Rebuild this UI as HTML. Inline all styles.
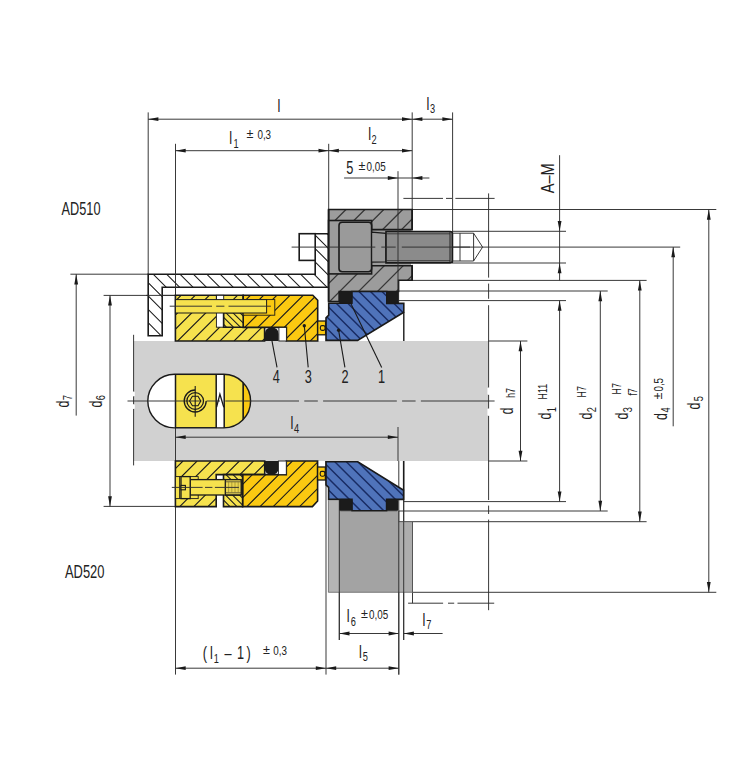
<!DOCTYPE html>
<html lang="de"><head><meta charset="utf-8"><title>AD510 / AD520</title><style>html,body{margin:0;padding:0;background:#fff;}svg{display:block;}</style></head><body><svg width="731" height="768" viewBox="0 0 731 768"><defs><clipPath id="c1"><polygon points="148.2,274.2 315.2,274.2 315.2,233.7 328.6,233.7 328.6,287.3 162.2,287.3 162.2,335.8 148.2,335.8"/></clipPath><clipPath id="c2"><polygon points="328.6,209.5 412.2,209.5 412.2,280.2 398.6,280.2 398.6,291.5 339.2,291.5 339.2,301.6 328.6,301.6"/></clipPath><clipPath id="c3"><polygon points="328.7,303.3 351.9,303.3 351.9,291.5 386.8,291.5 386.8,303.4 403.8,303.4 403.8,312.2 357.6,340.4 326.0,340.4 326.0,317.8 328.7,315.2"/></clipPath><clipPath id="c4"><polygon points="175.4,295.3 243.2,295.3 243.2,312.8 223.7,312.8 223.7,327.2 264.6,327.2 264.6,341.0 175.4,341.0"/></clipPath><clipPath id="c5"><polygon points="223.7,312.8 243.2,312.8 243.2,327.2 223.7,327.2"/></clipPath><clipPath id="c6"><polygon points="243.2,295.3 312.8,295.3 317.7,300.3 317.7,341.0 286.4,341.0 286.4,327.4 243.2,327.4"/></clipPath><clipPath id="c7"><polygon points="223.7,312.8 243.2,312.8 243.2,327.2 223.7,327.2"/></clipPath><clipPath id="c8"><polygon points="326.0,461.8 357.8,461.8 403.6,490.2 403.6,499.4 386.6,499.4 386.6,510.8 352.0,510.8 352.0,499.4 328.6,499.4 328.6,487.4 326.0,484.8"/></clipPath><clipPath id="c9"><polygon points="175.4,461.0 264.7,461.0 264.7,474.6 216.2,474.6 216.2,506.6 175.4,506.6"/></clipPath><clipPath id="c10"><polygon points="242.6,474.6 286.3,474.6 286.3,461.0 317.6,461.0 317.6,501.0 312.4,506.6 242.6,506.6"/></clipPath><clipPath id="c11"><polygon points="223.5,474.6 242.6,474.6 242.6,506.6 223.5,506.6"/></clipPath><clipPath id="key"><rect x="147.8" y="374.3" width="102.79999999999998" height="53.599999999999966" rx="26.799999999999983"/></clipPath></defs><rect x="133.3" y="341.0" width="355.2" height="120.0" rx="0" fill="#d1d1d1" stroke="none" />
<line x1="148.2" y1="112.4" x2="148.2" y2="274.0" stroke="#2e2e2e" stroke-width="0.95"/>
<line x1="175.5" y1="143.8" x2="175.5" y2="295.0" stroke="#2e2e2e" stroke-width="0.95"/>
<line x1="328.7" y1="143.8" x2="328.7" y2="209.5" stroke="#2e2e2e" stroke-width="0.95"/>
<line x1="412.2" y1="112.4" x2="412.2" y2="209.5" stroke="#2e2e2e" stroke-width="0.95"/>
<line x1="452.6" y1="112.4" x2="452.6" y2="263.0" stroke="#2e2e2e" stroke-width="0.95"/>
<line x1="398.0" y1="171.2" x2="398.0" y2="303.0" stroke="#2e2e2e" stroke-width="0.95"/>
<line x1="148.2" y1="119.2" x2="452.6" y2="119.2" stroke="#2e2e2e" stroke-width="0.95"/>
<line x1="175.5" y1="150.7" x2="412.2" y2="150.7" stroke="#2e2e2e" stroke-width="0.95"/>
<line x1="344.1" y1="178.0" x2="429.4" y2="178.0" stroke="#2e2e2e" stroke-width="0.95"/>
<polygon points="148.2,119.2 158.4,117.3 158.4,121.1" fill="#1a1a1a"/>
<polygon points="412.2,119.2 402.0,121.1 402.0,117.3" fill="#1a1a1a"/>
<polygon points="412.2,119.2 422.4,117.3 422.4,121.1" fill="#1a1a1a"/>
<polygon points="452.6,119.2 442.4,121.1 442.4,117.3" fill="#1a1a1a"/>
<polygon points="175.5,150.7 185.7,148.8 185.7,152.6" fill="#1a1a1a"/>
<polygon points="328.7,150.7 318.5,152.6 318.5,148.8" fill="#1a1a1a"/>
<polygon points="328.7,150.7 338.9,148.8 338.9,152.6" fill="#1a1a1a"/>
<polygon points="412.2,150.7 402.0,152.6 402.0,148.8" fill="#1a1a1a"/>
<polygon points="398.0,178.0 387.8,179.9 387.8,176.1" fill="#1a1a1a"/>
<polygon points="412.2,178.0 422.4,176.1 422.4,179.9" fill="#1a1a1a"/>
<line x1="403.4" y1="198.4" x2="443.0" y2="198.4" stroke="#2e2e2e" stroke-width="0.95"/>
<line x1="446.0" y1="198.4" x2="452.0" y2="198.4" stroke="#2e2e2e" stroke-width="0.95"/>
<line x1="455.4" y1="198.4" x2="494.6" y2="198.4" stroke="#2e2e2e" stroke-width="0.95"/>
<line x1="488.6" y1="193.4" x2="488.6" y2="277.6" stroke="#2e2e2e" stroke-width="0.95"/>
<line x1="488.6" y1="283.6" x2="488.6" y2="298.8" stroke="#2e2e2e" stroke-width="0.95"/>
<line x1="488.6" y1="305.2" x2="488.6" y2="341.0" stroke="#2e2e2e" stroke-width="0.95"/>
<line x1="488.6" y1="461.0" x2="488.6" y2="500.0" stroke="#2e2e2e" stroke-width="0.95"/>
<line x1="488.6" y1="505.6" x2="488.6" y2="514.0" stroke="#2e2e2e" stroke-width="0.95"/>
<line x1="488.6" y1="519.6" x2="488.6" y2="610.2" stroke="#2e2e2e" stroke-width="0.95"/>
<line x1="488.6" y1="341.0" x2="488.6" y2="387.5" stroke="#2e2e2e" stroke-width="0.95"/>
<line x1="488.6" y1="394.8" x2="488.6" y2="408.5" stroke="#2e2e2e" stroke-width="0.95"/>
<line x1="488.6" y1="415.8" x2="488.6" y2="461.0" stroke="#2e2e2e" stroke-width="0.95"/>
<rect x="487.4" y="387.9" width="2.0" height="6.5" rx="0" fill="#fff" stroke="none" />
<rect x="487.4" y="408.9" width="2.0" height="6.5" rx="0" fill="#fff" stroke="none" />
<line x1="408.1" y1="603.2" x2="443.1" y2="603.2" stroke="#2e2e2e" stroke-width="0.95"/>
<line x1="448.0" y1="603.2" x2="454.2" y2="603.2" stroke="#2e2e2e" stroke-width="0.95"/>
<line x1="457.5" y1="603.2" x2="494.2" y2="603.2" stroke="#2e2e2e" stroke-width="0.95"/>
<line x1="412.5" y1="592.3" x2="412.5" y2="603.2" stroke="#2e2e2e" stroke-width="0.95"/>
<line x1="412.2" y1="209.5" x2="716.3" y2="209.5" stroke="#2e2e2e" stroke-width="0.95"/>
<line x1="452.0" y1="231.3" x2="566.0" y2="231.3" stroke="#2e2e2e" stroke-width="0.95"/>
<line x1="401.8" y1="247.1" x2="680.2" y2="247.1" stroke="#2e2e2e" stroke-width="0.95"/>
<line x1="452.0" y1="263.0" x2="566.0" y2="263.0" stroke="#2e2e2e" stroke-width="0.95"/>
<line x1="398.6" y1="280.4" x2="646.6" y2="280.4" stroke="#2e2e2e" stroke-width="0.95"/>
<line x1="398.6" y1="291.0" x2="607.7" y2="291.0" stroke="#2e2e2e" stroke-width="0.95"/>
<line x1="398.6" y1="300.6" x2="566.0" y2="300.6" stroke="#2e2e2e" stroke-width="0.95"/>
<line x1="488.5" y1="341.0" x2="527.4" y2="341.0" stroke="#2e2e2e" stroke-width="0.95"/>
<line x1="488.5" y1="461.0" x2="527.4" y2="461.0" stroke="#2e2e2e" stroke-width="0.95"/>
<line x1="403.7" y1="501.6" x2="566.0" y2="501.6" stroke="#2e2e2e" stroke-width="0.95"/>
<line x1="398.6" y1="511.0" x2="607.7" y2="511.0" stroke="#2e2e2e" stroke-width="0.95"/>
<line x1="398.6" y1="521.7" x2="646.6" y2="521.7" stroke="#2e2e2e" stroke-width="0.95"/>
<line x1="412.5" y1="592.3" x2="716.3" y2="592.3" stroke="#2e2e2e" stroke-width="0.95"/>
<line x1="520.5" y1="341.0" x2="520.5" y2="461.0" stroke="#2e2e2e" stroke-width="0.95"/>
<polygon points="520.5,341.0 522.4,351.2 518.6,351.2" fill="#1a1a1a"/>
<polygon points="520.5,461.0 518.6,450.8 522.4,450.8" fill="#1a1a1a"/>
<line x1="559.6" y1="155.2" x2="559.6" y2="280.4" stroke="#2e2e2e" stroke-width="0.95"/>
<polygon points="559.6,231.3 557.7,221.1 561.5,221.1" fill="#1a1a1a"/>
<polygon points="559.6,263.0 561.5,273.2 557.7,273.2" fill="#1a1a1a"/>
<line x1="559.6" y1="300.6" x2="559.6" y2="501.6" stroke="#2e2e2e" stroke-width="0.95"/>
<polygon points="559.6,300.6 561.5,310.8 557.7,310.8" fill="#1a1a1a"/>
<polygon points="559.6,501.6 557.7,491.4 561.5,491.4" fill="#1a1a1a"/>
<line x1="600.3" y1="291.0" x2="600.3" y2="511.0" stroke="#2e2e2e" stroke-width="0.95"/>
<polygon points="600.3,291.0 602.2,301.2 598.4,301.2" fill="#1a1a1a"/>
<polygon points="600.3,511.0 598.4,500.8 602.2,500.8" fill="#1a1a1a"/>
<line x1="639.8" y1="280.4" x2="639.8" y2="521.7" stroke="#2e2e2e" stroke-width="0.95"/>
<polygon points="639.8,280.4 641.7,290.6 637.9,290.6" fill="#1a1a1a"/>
<polygon points="639.8,521.7 637.9,511.5 641.7,511.5" fill="#1a1a1a"/>
<line x1="673.2" y1="247.1" x2="673.2" y2="426.3" stroke="#2e2e2e" stroke-width="0.95"/>
<polygon points="673.2,247.1 675.1,257.3 671.3,257.3" fill="#1a1a1a"/>
<line x1="708.8" y1="209.5" x2="708.8" y2="592.3" stroke="#2e2e2e" stroke-width="0.95"/>
<polygon points="708.8,209.5 710.7,219.7 706.9,219.7" fill="#1a1a1a"/>
<polygon points="708.8,592.3 706.9,582.1 710.7,582.1" fill="#1a1a1a"/>
<line x1="70.4" y1="274.2" x2="148.2" y2="274.2" stroke="#2e2e2e" stroke-width="0.95"/>
<line x1="76.2" y1="274.2" x2="76.2" y2="415.6" stroke="#2e2e2e" stroke-width="0.95"/>
<polygon points="76.2,274.2 78.1,284.4 74.3,284.4" fill="#1a1a1a"/>
<line x1="103.6" y1="295.4" x2="175.5" y2="295.4" stroke="#2e2e2e" stroke-width="0.95"/>
<line x1="103.6" y1="506.4" x2="175.5" y2="506.4" stroke="#2e2e2e" stroke-width="0.95"/>
<line x1="110.0" y1="295.4" x2="110.0" y2="506.4" stroke="#2e2e2e" stroke-width="0.95"/>
<polygon points="110.0,295.4 111.9,305.6 108.1,305.6" fill="#1a1a1a"/>
<polygon points="110.0,506.4 108.1,496.2 111.9,496.2" fill="#1a1a1a"/>
<line x1="175.5" y1="506.4" x2="175.5" y2="674.6" stroke="#2e2e2e" stroke-width="0.95"/>
<line x1="326.0" y1="461.0" x2="326.0" y2="674.6" stroke="#2e2e2e" stroke-width="0.95"/>
<line x1="339.3" y1="500.0" x2="339.3" y2="640.0" stroke="#2e2e2e" stroke-width="0.95"/>
<line x1="398.8" y1="461.0" x2="398.8" y2="674.6" stroke="#2e2e2e" stroke-width="0.95"/>
<line x1="403.7" y1="461.0" x2="403.7" y2="640.0" stroke="#2e2e2e" stroke-width="0.95"/>
<line x1="339.3" y1="633.5" x2="398.8" y2="633.5" stroke="#2e2e2e" stroke-width="0.95"/>
<line x1="403.7" y1="633.5" x2="442.6" y2="633.5" stroke="#2e2e2e" stroke-width="0.95"/>
<polygon points="339.3,633.5 349.5,631.6 349.5,635.4" fill="#1a1a1a"/>
<polygon points="398.8,633.5 388.6,635.4 388.6,631.6" fill="#1a1a1a"/>
<polygon points="403.7,633.5 413.9,631.6 413.9,635.4" fill="#1a1a1a"/>
<line x1="175.5" y1="668.2" x2="398.8" y2="668.2" stroke="#2e2e2e" stroke-width="0.95"/>
<polygon points="175.5,668.2 185.7,666.3 185.7,670.1" fill="#1a1a1a"/>
<polygon points="326.0,668.2 315.8,670.1 315.8,666.3" fill="#1a1a1a"/>
<polygon points="326.0,668.2 336.2,666.3 336.2,670.1" fill="#1a1a1a"/>
<polygon points="398.8,668.2 388.6,670.1 388.6,666.3" fill="#1a1a1a"/>
<line x1="133.6" y1="334.8" x2="133.6" y2="391.5" stroke="#2e2e2e" stroke-width="0.95"/>
<line x1="133.6" y1="396.4" x2="133.6" y2="404.2" stroke="#2e2e2e" stroke-width="0.95"/>
<line x1="133.6" y1="409.0" x2="133.6" y2="465.4" stroke="#2e2e2e" stroke-width="0.95"/>
<rect x="132.6" y="391.9" width="2.2" height="4.1" rx="0" fill="#fff" stroke="none" />
<rect x="132.6" y="404.6" width="2.2" height="4.0" rx="0" fill="#fff" stroke="none" />
<line x1="175.5" y1="427.7" x2="175.5" y2="461.0" stroke="#2e2e2e" stroke-width="0.95"/>
<line x1="175.5" y1="437.2" x2="398.0" y2="437.2" stroke="#2e2e2e" stroke-width="0.95"/>
<line x1="398.0" y1="427.0" x2="398.0" y2="461.0" stroke="#2e2e2e" stroke-width="0.95"/>
<polygon points="175.5,437.2 185.7,435.3 185.7,439.1" fill="#1a1a1a"/>
<polygon points="398.0,437.2 387.8,439.1 387.8,435.3" fill="#1a1a1a"/>
<polygon points="148.2,274.2 315.2,274.2 315.2,233.7 328.6,233.7 328.6,287.3 162.2,287.3 162.2,335.8 148.2,335.8" fill="#fff" stroke="none" stroke-width="1.6" stroke-linejoin="miter" />
<path d="M59.1 233.7L161.2 335.8M72.5 233.7L174.6 335.8M85.9 233.7L188.0 335.8M99.3 233.7L201.4 335.8M112.7 233.7L214.8 335.8M126.1 233.7L228.2 335.8M139.5 233.7L241.6 335.8M152.9 233.7L255.0 335.8M166.3 233.7L268.4 335.8M179.7 233.7L281.8 335.8M193.1 233.7L295.2 335.8M206.5 233.7L308.6 335.8M219.9 233.7L322.0 335.8M233.3 233.7L335.4 335.8M246.7 233.7L348.8 335.8M260.1 233.7L362.2 335.8M273.5 233.7L375.6 335.8M286.9 233.7L389.0 335.8M300.3 233.7L402.4 335.8M313.7 233.7L415.8 335.8M327.1 233.7L429.2 335.8" stroke="#1c1c1c" stroke-width="1.05" fill="none" clip-path="url(#c1)"/>
<polygon points="148.2,274.2 315.2,274.2 315.2,233.7 328.6,233.7 328.6,287.3 162.2,287.3 162.2,335.8 148.2,335.8" fill="none" stroke="#1a1a1a" stroke-width="1.6" stroke-linejoin="miter" />
<line x1="175.5" y1="270.0" x2="175.5" y2="295.3" stroke="#2e2e2e" stroke-width="0.95"/>
<line x1="146.0" y1="295.4" x2="175.5" y2="295.4" stroke="#2e2e2e" stroke-width="0.95"/>
<rect x="299.2" y="233.7" width="16.0" height="26.7" rx="0" fill="#fff" stroke="#1a1a1a" stroke-width="1.6" />
<line x1="291.6" y1="247.1" x2="330.0" y2="247.1" stroke="#2e2e2e" stroke-width="0.95"/>
<polygon points="328.6,209.5 412.2,209.5 412.2,280.2 398.6,280.2 398.6,291.5 339.2,291.5 339.2,301.6 328.6,301.6" fill="#9c9c9c" stroke="none" stroke-width="1.6" stroke-linejoin="miter" />
<path d="M346.0 209.5L253.9 301.6M364.9 209.5L272.8 301.6M383.8 209.5L291.7 301.6M402.7 209.5L310.6 301.6M421.6 209.5L329.5 301.6M440.5 209.5L348.4 301.6M459.4 209.5L367.3 301.6M478.3 209.5L386.2 301.6M497.2 209.5L405.1 301.6" stroke="#383838" stroke-width="1.3" fill="none" clip-path="url(#c2)"/>
<polygon points="328.6,209.5 412.2,209.5 412.2,280.2 398.6,280.2 398.6,291.5 339.2,291.5 339.2,301.6 328.6,301.6" fill="none" stroke="#1a1a1a" stroke-width="1.6" stroke-linejoin="miter" />
<rect x="328.6" y="220.5" width="43.0" height="53.4" rx="0" fill="#9c9c9c" stroke="#1a1a1a" stroke-width="1.6" />
<rect x="371.6" y="229.6" width="40.6" height="36.1" rx="0" fill="#9c9c9c" stroke="none" stroke-width="1.6" />
<rect x="411.0" y="230.4" width="2.4" height="34.5" rx="0" fill="#fff" stroke="none" stroke-width="1.6" />
<line x1="371.6" y1="229.6" x2="412.2" y2="229.6" stroke="#1a1a1a" stroke-width="1.6"/>
<line x1="371.6" y1="265.7" x2="412.2" y2="265.7" stroke="#1a1a1a" stroke-width="1.6"/>
<line x1="328.6" y1="209.5" x2="328.6" y2="301.6" stroke="#1a1a1a" stroke-width="1.6"/>
<rect x="339.0" y="222.3" width="32.6" height="49.5" rx="3.2" fill="#9a9a9a" stroke="#1a1a1a" stroke-width="1.6" />
<path d="M371.6 232.2 L386 233.4 L386 262 L371.6 262.2 Z" fill="#9a9a9a" stroke="#1a1a1a" stroke-width="1.2"/>
<path d="M386 231.5 L450.2 231.5 Q452.4 231.5 452.4 233.7 L452.4 260.7 Q452.4 262.9 450.2 262.9 L386 262.9 Z" fill="#8b8b8b" stroke="#1a1a1a" stroke-width="1.6"/>
<line x1="386.0" y1="233.8" x2="450.0" y2="233.8" stroke="#2a2a2a" stroke-width="0.8"/>
<line x1="386.0" y1="260.7" x2="450.0" y2="260.7" stroke="#2a2a2a" stroke-width="0.8"/>
<line x1="450.0" y1="232.0" x2="450.0" y2="262.4" stroke="#222" stroke-width="1.0"/>
<line x1="398.0" y1="209.5" x2="398.0" y2="291.5" stroke="#2e2e2e" stroke-width="0.95"/>
<line x1="412.2" y1="209.5" x2="412.2" y2="229.6" stroke="#1a1a1a" stroke-width="1.6"/>
<line x1="412.2" y1="265.7" x2="412.2" y2="280.2" stroke="#1a1a1a" stroke-width="1.6"/>
<line x1="328.0" y1="247.1" x2="375.3" y2="247.1" stroke="#2e2e2e" stroke-width="0.95"/>
<line x1="381.3" y1="247.1" x2="395.7" y2="247.1" stroke="#2e2e2e" stroke-width="0.95"/>
<line x1="401.8" y1="247.1" x2="470.0" y2="247.1" stroke="#2e2e2e" stroke-width="0.95"/>
<line x1="452.4" y1="233.2" x2="473.6" y2="233.2" stroke="#2e2e2e" stroke-width="0.95"/>
<line x1="452.4" y1="261.0" x2="473.6" y2="261.0" stroke="#2e2e2e" stroke-width="0.95"/>
<line x1="460.0" y1="233.2" x2="460.0" y2="261.0" stroke="#2e2e2e" stroke-width="0.95"/>
<line x1="473.6" y1="233.2" x2="473.6" y2="261.0" stroke="#2e2e2e" stroke-width="0.95"/>
<line x1="473.6" y1="233.2" x2="482.6" y2="247.1" stroke="#2e2e2e" stroke-width="0.95"/>
<line x1="473.6" y1="261.0" x2="482.6" y2="247.1" stroke="#2e2e2e" stroke-width="0.95"/>
<polygon points="328.7,303.3 351.9,303.3 351.9,291.5 386.8,291.5 386.8,303.4 403.8,303.4 403.8,312.2 357.6,340.4 326.0,340.4 326.0,317.8 328.7,315.2" fill="#4f73ba" stroke="none" stroke-width="1.6" stroke-linejoin="miter" />
<path d="M278.5 291.5L327.4 340.4M290.0 291.5L338.9 340.4M301.5 291.5L350.4 340.4M313.0 291.5L361.9 340.4M324.5 291.5L373.4 340.4M336.0 291.5L384.9 340.4M347.5 291.5L396.4 340.4M359.0 291.5L407.9 340.4M370.5 291.5L419.4 340.4M382.0 291.5L430.9 340.4M393.5 291.5L442.4 340.4" stroke="#182b63" stroke-width="1.45" fill="none" clip-path="url(#c3)"/>
<polygon points="328.7,303.3 351.9,303.3 351.9,291.5 386.8,291.5 386.8,303.4 403.8,303.4 403.8,312.2 357.6,340.4 326.0,340.4 326.0,317.8 328.7,315.2" fill="none" stroke="#1a1a1a" stroke-width="1.6" stroke-linejoin="miter" />
<line x1="403.8" y1="312.2" x2="403.8" y2="341.0" stroke="#1a1a1a" stroke-width="1.4"/>
<rect x="339.2" y="291.5" width="12.7" height="11.8" rx="1.2" fill="#1b1b1b" stroke="#1b1b1b" stroke-width="0.6" />
<rect x="386.8" y="291.5" width="11.9" height="11.9" rx="1.2" fill="#1b1b1b" stroke="#1b1b1b" stroke-width="0.6" />
<polygon points="175.4,295.3 243.2,295.3 243.2,312.8 223.7,312.8 223.7,327.2 264.6,327.2 264.6,341.0 175.4,341.0" fill="#f6e24e" stroke="none" stroke-width="1.6" stroke-linejoin="miter" />
<path d="M181.1 295.3L135.4 341.0M195.2 295.3L149.5 341.0M209.3 295.3L163.6 341.0M223.4 295.3L177.7 341.0M237.5 295.3L191.8 341.0M251.6 295.3L205.9 341.0M265.7 295.3L220.0 341.0M279.8 295.3L234.1 341.0M293.9 295.3L248.2 341.0M308.0 295.3L262.3 341.0" stroke="#1c1c1c" stroke-width="1.1" fill="none" clip-path="url(#c4)"/>
<polygon points="175.4,295.3 243.2,295.3 243.2,312.8 223.7,312.8 223.7,327.2 264.6,327.2 264.6,341.0 175.4,341.0" fill="none" stroke="#1a1a1a" stroke-width="1.6" stroke-linejoin="miter" />
<rect x="216.4" y="295.3" width="7.3" height="31.9" rx="0" fill="#fff" stroke="#1a1a1a" stroke-width="0.9" />
<polygon points="223.7,312.8 243.2,312.8 243.2,327.2 223.7,327.2" fill="#f6e24e" stroke="none" stroke-width="1.6" stroke-linejoin="miter" />
<path d="M212.0 312.8L226.4 327.2M219.0 312.8L233.4 327.2M226.0 312.8L240.4 327.2M233.0 312.8L247.4 327.2M240.0 312.8L254.4 327.2" stroke="#1c1c1c" stroke-width="1.05" fill="none" clip-path="url(#c5)"/>
<polygon points="223.7,312.8 243.2,312.8 243.2,327.2 223.7,327.2" fill="none" stroke="#1a1a1a" stroke-width="1.6" stroke-linejoin="miter" />
<polygon points="243.2,295.3 312.8,295.3 317.7,300.3 317.7,341.0 286.4,341.0 286.4,327.4 243.2,327.4" fill="#fbc911" stroke="none" stroke-width="1.6" stroke-linejoin="miter" />
<path d="M250.4 295.3L204.7 341.0M263.6 295.3L217.9 341.0M276.8 295.3L231.1 341.0M290.0 295.3L244.3 341.0M303.2 295.3L257.5 341.0M316.4 295.3L270.7 341.0M329.6 295.3L283.9 341.0M342.8 295.3L297.1 341.0M356.0 295.3L310.3 341.0" stroke="#1c1c1c" stroke-width="1.1" fill="none" clip-path="url(#c6)"/>
<polygon points="243.2,295.3 312.8,295.3 317.7,300.3 317.7,341.0 286.4,341.0 286.4,327.4 243.2,327.4" fill="none" stroke="#1a1a1a" stroke-width="1.6" stroke-linejoin="miter" />
<rect x="317.7" y="321.0" width="7.9" height="13.8" rx="0" fill="#fbc911" stroke="#1a1a1a" stroke-width="1.3" />
<rect x="320.4" y="325.6" width="4.6" height="4.8" rx="1.6" fill="#fbc911" stroke="#1a1a1a" stroke-width="1.1" />
<polygon points="223.7,312.8 243.2,312.8 243.2,327.2 223.7,327.2" fill="#f6e24e" stroke="none" stroke-width="1.6" stroke-linejoin="miter" />
<path d="M212.0 312.8L226.4 327.2M219.0 312.8L233.4 327.2M226.0 312.8L240.4 327.2M233.0 312.8L247.4 327.2M240.0 312.8L254.4 327.2" stroke="#1c1c1c" stroke-width="1.05" fill="none" clip-path="url(#c7)"/>
<polygon points="223.7,312.8 243.2,312.8 243.2,327.2 223.7,327.2" fill="none" stroke="#1a1a1a" stroke-width="1.6" stroke-linejoin="miter" />
<rect x="243.2" y="299.6" width="31.6" height="15.6" rx="0" fill="#fbc911" stroke="#1a1a1a" stroke-width="0.9" />
<rect x="175.4" y="299.6" width="91.2" height="13.4" rx="0" fill="#f6e24e" stroke="#1a1a1a" stroke-width="1.0" />
<line x1="216.4" y1="295.3" x2="216.4" y2="299.6" stroke="#1a1a1a" stroke-width="0.9"/>
<line x1="169.7" y1="306.2" x2="212.0" y2="306.2" stroke="#2e2e2e" stroke-width="0.95"/>
<line x1="216.2" y1="306.2" x2="224.4" y2="306.2" stroke="#2e2e2e" stroke-width="0.95"/>
<line x1="228.5" y1="306.2" x2="270.9" y2="306.2" stroke="#2e2e2e" stroke-width="0.95"/>
<path d="M264.8 341 L264.8 334 Q264.8 327.4 271.7 327.4 Q278.6 327.4 278.6 334 L278.6 341 Z" fill="#1b1b1b"/>
<rect x="278.9" y="327.4" width="7.5" height="13.6" rx="0" fill="#fff" stroke="#1a1a1a" stroke-width="0.9" />
<rect x="328.4" y="500.4" width="11.0" height="91.9" rx="0" fill="#b4b4b4" stroke="none" stroke-width="1.6" />
<rect x="339.4" y="510.8" width="59.2" height="81.5" rx="0" fill="#a3a3a3" stroke="none" stroke-width="1.6" />
<rect x="398.6" y="521.7" width="13.9" height="70.6" rx="0" fill="#adadad" stroke="none" stroke-width="1.6" />
<line x1="328.4" y1="500.4" x2="328.4" y2="592.3" stroke="#555" stroke-width="0.7"/>
<line x1="328.4" y1="592.3" x2="412.5" y2="592.3" stroke="#555" stroke-width="0.7"/>
<line x1="339.3" y1="500.4" x2="339.3" y2="640.0" stroke="#2e2e2e" stroke-width="0.95"/>
<line x1="398.8" y1="511.0" x2="398.8" y2="674.6" stroke="#2e2e2e" stroke-width="0.95"/>
<line x1="403.7" y1="461.0" x2="403.7" y2="640.0" stroke="#2e2e2e" stroke-width="0.95"/>
<line x1="412.5" y1="521.7" x2="412.5" y2="592.3" stroke="#555" stroke-width="1.0"/>
<line x1="398.6" y1="521.7" x2="412.5" y2="521.7" stroke="#555" stroke-width="0.7"/>
<polygon points="326.0,461.8 357.8,461.8 403.6,490.2 403.6,499.4 386.6,499.4 386.6,510.8 352.0,510.8 352.0,499.4 328.6,499.4 328.6,487.4 326.0,484.8" fill="#4f73ba" stroke="none" stroke-width="1.6" stroke-linejoin="miter" />
<path d="M277.3 461.8L326.3 510.8M288.8 461.8L337.8 510.8M300.3 461.8L349.3 510.8M311.8 461.8L360.8 510.8M323.3 461.8L372.3 510.8M334.8 461.8L383.8 510.8M346.3 461.8L395.3 510.8M357.8 461.8L406.8 510.8M369.3 461.8L418.3 510.8M380.8 461.8L429.8 510.8M392.3 461.8L441.3 510.8" stroke="#182b63" stroke-width="1.45" fill="none" clip-path="url(#c8)"/>
<polygon points="326.0,461.8 357.8,461.8 403.6,490.2 403.6,499.4 386.6,499.4 386.6,510.8 352.0,510.8 352.0,499.4 328.6,499.4 328.6,487.4 326.0,484.8" fill="none" stroke="#1a1a1a" stroke-width="1.6" stroke-linejoin="miter" />
<line x1="403.6" y1="461.0" x2="403.6" y2="490.2" stroke="#1a1a1a" stroke-width="1.4"/>
<rect x="339.6" y="499.4" width="12.4" height="11.4" rx="1.2" fill="#1b1b1b" stroke="#1b1b1b" stroke-width="0.6" />
<rect x="386.6" y="499.4" width="11.4" height="11.4" rx="1.2" fill="#1b1b1b" stroke="#1b1b1b" stroke-width="0.6" />
<polygon points="175.4,461.0 264.7,461.0 264.7,474.6 216.2,474.6 216.2,506.6 175.4,506.6" fill="#f6e24e" stroke="none" stroke-width="1.6" stroke-linejoin="miter" />
<path d="M183.0 461.0L137.4 506.6M197.1 461.0L151.5 506.6M211.2 461.0L165.6 506.6M225.3 461.0L179.7 506.6M239.4 461.0L193.8 506.6M253.5 461.0L207.9 506.6M267.6 461.0L222.0 506.6M281.7 461.0L236.1 506.6M295.8 461.0L250.2 506.6M309.9 461.0L264.3 506.6" stroke="#1c1c1c" stroke-width="1.1" fill="none" clip-path="url(#c9)"/>
<polygon points="175.4,461.0 264.7,461.0 264.7,474.6 216.2,474.6 216.2,506.6 175.4,506.6" fill="none" stroke="#1a1a1a" stroke-width="1.6" stroke-linejoin="miter" />
<rect x="175.4" y="476.6" width="22.8" height="22.0" rx="0" fill="#f6e24e" stroke="#1a1a1a" stroke-width="0.9" />
<polygon points="242.6,474.6 286.3,474.6 286.3,461.0 317.6,461.0 317.6,501.0 312.4,506.6 242.6,506.6" fill="#fbc911" stroke="none" stroke-width="1.6" stroke-linejoin="miter" />
<path d="M252.8 461.0L207.2 506.6M266.0 461.0L220.4 506.6M279.2 461.0L233.6 506.6M292.4 461.0L246.8 506.6M305.6 461.0L260.0 506.6M318.8 461.0L273.2 506.6M332.0 461.0L286.4 506.6M345.2 461.0L299.6 506.6M358.4 461.0L312.8 506.6" stroke="#1c1c1c" stroke-width="1.1" fill="none" clip-path="url(#c10)"/>
<polygon points="242.6,474.6 286.3,474.6 286.3,461.0 317.6,461.0 317.6,501.0 312.4,506.6 242.6,506.6" fill="none" stroke="#1a1a1a" stroke-width="1.6" stroke-linejoin="miter" />
<rect x="317.6" y="467.0" width="7.8" height="13.0" rx="0" fill="#fbc911" stroke="#1a1a1a" stroke-width="1.3" />
<rect x="320.2" y="471.4" width="4.6" height="4.8" rx="1.6" fill="#fbc911" stroke="#1a1a1a" stroke-width="1.1" />
<polygon points="223.5,474.6 242.6,474.6 242.6,506.6 223.5,506.6" fill="#f6e24e" stroke="none" stroke-width="1.6" stroke-linejoin="miter" />
<path d="M198.0 474.6L230.0 506.6M205.0 474.6L237.0 506.6M212.0 474.6L244.0 506.6M219.0 474.6L251.0 506.6M226.0 474.6L258.0 506.6M233.0 474.6L265.0 506.6M240.0 474.6L272.0 506.6" stroke="#1c1c1c" stroke-width="1.05" fill="none" clip-path="url(#c11)"/>
<polygon points="223.5,474.6 242.6,474.6 242.6,506.6 223.5,506.6" fill="none" stroke="#1a1a1a" stroke-width="1.6" stroke-linejoin="miter" />
<path d="M264.8 461 L264.8 468.6 Q264.8 474.6 271.6 474.6 Q278.4 474.6 278.4 468.6 L278.4 461 Z" fill="#1b1b1b"/>
<rect x="278.4" y="461.0" width="7.9" height="13.6" rx="0" fill="#fff" stroke="#1a1a1a" stroke-width="0.9" />
<rect x="198.2" y="479.6" width="18.0" height="15.4" rx="0" fill="#f6e24e" stroke="none" stroke-width="1.6" />
<rect x="190.2" y="479.6" width="51.0" height="15.4" rx="0" fill="#f6e24e" stroke="#1a1a1a" stroke-width="1.3" />
<rect x="181.0" y="476.6" width="9.2" height="22.0" rx="0" fill="#f6e24e" stroke="#1a1a1a" stroke-width="1.3" />
<rect x="181.0" y="485.4" width="4.4" height="4.4" rx="0" fill="#f6e24e" stroke="#1a1a1a" stroke-width="1.1" />
<line x1="179.7" y1="476.6" x2="179.7" y2="498.6" stroke="#1a1a1a" stroke-width="1.0"/>
<rect x="225.3" y="479.6" width="15.9" height="15.4" rx="1.2" fill="#ead552" stroke="#1a1a1a" stroke-width="1.3" />
<line x1="225.3" y1="481.8" x2="241.2" y2="481.8" stroke="#333" stroke-width="0.7"/>
<line x1="225.3" y1="492.8" x2="241.2" y2="492.8" stroke="#333" stroke-width="0.7"/>
<line x1="228.6" y1="481.8" x2="228.6" y2="492.8" stroke="#8a7a20" stroke-width="0.6"/>
<line x1="231.8" y1="481.8" x2="231.8" y2="492.8" stroke="#8a7a20" stroke-width="0.6"/>
<line x1="235.0" y1="481.8" x2="235.0" y2="492.8" stroke="#8a7a20" stroke-width="0.6"/>
<line x1="238.2" y1="481.8" x2="238.2" y2="492.8" stroke="#8a7a20" stroke-width="0.6"/>
<line x1="171.8" y1="487.4" x2="202.6" y2="487.4" stroke="#2e2e2e" stroke-width="0.95"/>
<line x1="205.0" y1="487.4" x2="212.4" y2="487.4" stroke="#2e2e2e" stroke-width="0.95"/>
<line x1="214.9" y1="487.4" x2="238.9" y2="487.4" stroke="#2e2e2e" stroke-width="0.95"/>
<g clip-path="url(#key)">
<rect x="147.8" y="374.3" width="102.8" height="53.6" rx="0" fill="#fff" stroke="none" />
<rect x="175.5" y="374.3" width="40.7" height="53.6" rx="0" fill="#f6e24e" stroke="#1a1a1a" stroke-width="1.5" />
<rect x="224.2" y="374.3" width="19.1" height="53.6" rx="0" fill="#f6e24e" stroke="#1a1a1a" stroke-width="1.5" />
<rect x="243.3" y="374.3" width="18.7" height="53.6" rx="0" fill="#fbc911" stroke="#1a1a1a" stroke-width="1.3" />
</g>
<rect x="147.8" y="374.3" width="102.8" height="53.6" rx="26.799999999999983" fill="none" stroke="#1a1a1a" stroke-width="1.4" />
<line x1="127.5" y1="401.0" x2="494.6" y2="401.0" stroke="#2e2e2e" stroke-width="0.95" stroke-dasharray="73.7 5.3 13.5 5.3"/>
<path d="M195.2 390.0 A11 11 0 1 0 206.2 401.0" fill="none" stroke="#1a1a1a" stroke-width="1.3"/>
<circle cx="195.2" cy="401.0" r="8.3" fill="none" stroke="#1a1a1a" stroke-width="1.3"/>
<polygon points="200.8,401.0 198.0,405.8 192.4,405.8 189.6,401.0 192.4,396.2 198.0,396.2" fill="none" stroke="#1a1a1a" stroke-width="1.1" stroke-linejoin="miter" />
<line x1="195.2" y1="386.0" x2="195.2" y2="416.8" stroke="#1a1a1a" stroke-width="1.1"/>
<path d="M216.6 407.2 L219.9 394.2 L223.8 407.2" fill="none" stroke="#1a1a1a" stroke-width="1.3" stroke-linejoin="miter"/>
<line x1="271.9" y1="340.5" x2="277.0" y2="367.4" stroke="#1a1a1a" stroke-width="1.1"/>
<line x1="304.3" y1="325.8" x2="308.2" y2="367.4" stroke="#1a1a1a" stroke-width="1.1"/>
<line x1="338.6" y1="330.2" x2="344.9" y2="367.4" stroke="#1a1a1a" stroke-width="1.1"/>
<line x1="350.7" y1="303.3" x2="381.7" y2="367.4" stroke="#1a1a1a" stroke-width="1.1"/>
<circle cx="304.3" cy="325.8" r="1.7" fill="#1a1a1a"/>
<circle cx="338.6" cy="330.2" r="1.7" fill="#1a1a1a"/>
<g font-family="'Liberation Sans', sans-serif">
<text transform="translate(276.2 383.2) scale(0.7 1)" font-size="18.2" text-anchor="middle" fill="#222">4</text>
<text transform="translate(308.4 383.2) scale(0.7 1)" font-size="18.2" text-anchor="middle" fill="#222">3</text>
<text transform="translate(345.0 383.2) scale(0.7 1)" font-size="18.2" text-anchor="middle" fill="#222">2</text>
<text transform="translate(381.6 383.2) scale(0.7 1)" font-size="18.2" text-anchor="middle" fill="#222">1</text>
<text transform="translate(61.6 215.0) scale(0.7 1)" font-size="18.2" text-anchor="start" fill="#222">AD510</text>
<text transform="translate(65.0 578.1) scale(0.71 1)" font-size="18.2" text-anchor="start" fill="#222">AD520</text>
<text transform="translate(277.4 112.4) scale(0.7 1)" font-size="18.2" text-anchor="start" fill="#222">l</text>
<text transform="translate(229.2 143.8) scale(0.7 1)" font-size="18.2" text-anchor="start" fill="#222">l</text>
<text transform="translate(233.4 147.8) scale(0.7 1)" font-size="13.2" text-anchor="start" fill="#222">1</text>
<text transform="translate(246.4 137.7) scale(0.92 1)" font-size="13.7" text-anchor="start" fill="#222">±</text>
<text transform="translate(257.4 138.9) scale(0.72 1)" font-size="13.7" text-anchor="start" fill="#222">0,3</text>
<text transform="translate(368.2 139.8) scale(0.7 1)" font-size="18.2" text-anchor="start" fill="#222">l</text>
<text transform="translate(371.4 143.8) scale(0.7 1)" font-size="13.2" text-anchor="start" fill="#222">2</text>
<text transform="translate(426.4 109.6) scale(0.7 1)" font-size="18.2" text-anchor="start" fill="#222">l</text>
<text transform="translate(430.0 113.4) scale(0.7 1)" font-size="13.2" text-anchor="start" fill="#222">3</text>
<text transform="translate(346.2 173.5) scale(0.7 1)" font-size="18.3" text-anchor="start" fill="#222">5</text>
<text transform="translate(358.5 169.8) scale(0.92 1)" font-size="13.7" text-anchor="start" fill="#222">±</text>
<text transform="translate(366.5 171.0) scale(0.72 1)" font-size="13.7" text-anchor="start" fill="#222">0,05</text>
<text transform="translate(290.6 429.0) scale(0.7 1)" font-size="18.2" text-anchor="start" fill="#222">l</text>
<text transform="translate(294.0 432.8) scale(0.7 1)" font-size="13.2" text-anchor="start" fill="#222">4</text>
<text transform="translate(346.8 622.3) scale(0.7 1)" font-size="18.2" text-anchor="start" fill="#222">l</text>
<text transform="translate(350.8 626.2) scale(0.7 1)" font-size="13.2" text-anchor="start" fill="#222">6</text>
<text transform="translate(361.0 618.2) scale(0.92 1)" font-size="13.7" text-anchor="start" fill="#222">±</text>
<text transform="translate(369.0 619.4) scale(0.72 1)" font-size="13.7" text-anchor="start" fill="#222">0,05</text>
<text transform="translate(422.6 625.8) scale(0.7 1)" font-size="18.2" text-anchor="start" fill="#222">l</text>
<text transform="translate(426.2 629.2) scale(0.7 1)" font-size="13.2" text-anchor="start" fill="#222">7</text>
<text transform="translate(359.0 657.6) scale(0.7 1)" font-size="18.2" text-anchor="start" fill="#222">l</text>
<text transform="translate(362.8 661.2) scale(0.7 1)" font-size="13.2" text-anchor="start" fill="#222">5</text>
<text transform="translate(202.7 658.6) scale(0.7 1)" font-size="18.2" text-anchor="start" fill="#222">(</text>
<text transform="translate(209.9 658.6) scale(0.7 1)" font-size="18.2" text-anchor="start" fill="#222">l</text>
<text transform="translate(213.8 662.6) scale(0.7 1)" font-size="13.2" text-anchor="start" fill="#222">1</text>
<text transform="translate(224.4 658.6) scale(0.7 1)" font-size="18.2" text-anchor="start" fill="#222">–</text>
<text transform="translate(237.1 658.6) scale(0.7 1)" font-size="18.2" text-anchor="start" fill="#222">1</text>
<text transform="translate(246.5 658.6) scale(0.7 1)" font-size="18.2" text-anchor="start" fill="#222">)</text>
<text transform="translate(262.9 653.6) scale(0.92 1)" font-size="13.7" text-anchor="start" fill="#222">±</text>
<text transform="translate(273.3 654.8) scale(0.72 1)" font-size="13.7" text-anchor="start" fill="#222">0,3</text>
<text transform="translate(513.0 414.2) rotate(-90) scale(0.66 1)" font-size="18.2" text-anchor="start" fill="#222">d</text>
<text transform="translate(515.2 398.0) rotate(-90) scale(0.66 1)" font-size="13.7" text-anchor="start" fill="#222">h7</text>
<text transform="translate(550.6 419.5) rotate(-90) scale(0.68 1)" font-size="18.2" text-anchor="start" fill="#222">d</text>
<text transform="translate(556.0 412.2) rotate(-90) scale(0.7 1)" font-size="13.2" text-anchor="start" fill="#222">1</text>
<text transform="translate(546.8 399.4) rotate(-90) scale(0.64 1)" font-size="13.7" text-anchor="start" fill="#222">H11</text>
<text transform="translate(591.8 419.5) rotate(-90) scale(0.68 1)" font-size="18.2" text-anchor="start" fill="#222">d</text>
<text transform="translate(596.0 412.2) rotate(-90) scale(0.7 1)" font-size="13.2" text-anchor="start" fill="#222">2</text>
<text transform="translate(585.6 397.4) rotate(-90) scale(0.64 1)" font-size="13.7" text-anchor="start" fill="#222">H7</text>
<text transform="translate(628.2 419.5) rotate(-90) scale(0.68 1)" font-size="18.2" text-anchor="start" fill="#222">d</text>
<text transform="translate(632.0 412.2) rotate(-90) scale(0.7 1)" font-size="13.2" text-anchor="start" fill="#222">3</text>
<text transform="translate(620.6 394.4) rotate(-90) scale(0.64 1)" font-size="13.7" text-anchor="start" fill="#222">H7</text>
<text transform="translate(637.0 395.6) rotate(-90) scale(0.64 1)" font-size="13.7" text-anchor="start" fill="#222">f7</text>
<text transform="translate(666.8 420.1) rotate(-90) scale(0.68 1)" font-size="18.2" text-anchor="start" fill="#222">d</text>
<text transform="translate(670.2 412.6) rotate(-90) scale(0.7 1)" font-size="13.2" text-anchor="start" fill="#222">4</text>
<text transform="translate(661.6 399.4) rotate(-90) scale(0.92 1)" font-size="13.7" text-anchor="start" fill="#222">±</text>
<text transform="translate(662.8 391.6) rotate(-90) scale(0.72 1)" font-size="13.7" text-anchor="start" fill="#222">0,5</text>
<text transform="translate(700.0 409.5) rotate(-90) scale(0.68 1)" font-size="18.2" text-anchor="start" fill="#222">d</text>
<text transform="translate(703.0 401.2) rotate(-90) scale(0.7 1)" font-size="13.2" text-anchor="start" fill="#222">5</text>
<text transform="translate(553.8 193.2) rotate(-90) scale(0.8 1)" font-size="18.2" text-anchor="start" fill="#222">A–M</text>
<text transform="translate(68.8 407.4) rotate(-90) scale(0.68 1)" font-size="18.2" text-anchor="start" fill="#222">d</text>
<text transform="translate(71.6 400.2) rotate(-90) scale(0.7 1)" font-size="13.2" text-anchor="start" fill="#222">7</text>
<text transform="translate(101.8 407.4) rotate(-90) scale(0.68 1)" font-size="18.2" text-anchor="start" fill="#222">d</text>
<text transform="translate(104.8 400.2) rotate(-90) scale(0.7 1)" font-size="13.2" text-anchor="start" fill="#222">6</text>
</g></svg></body></html>
